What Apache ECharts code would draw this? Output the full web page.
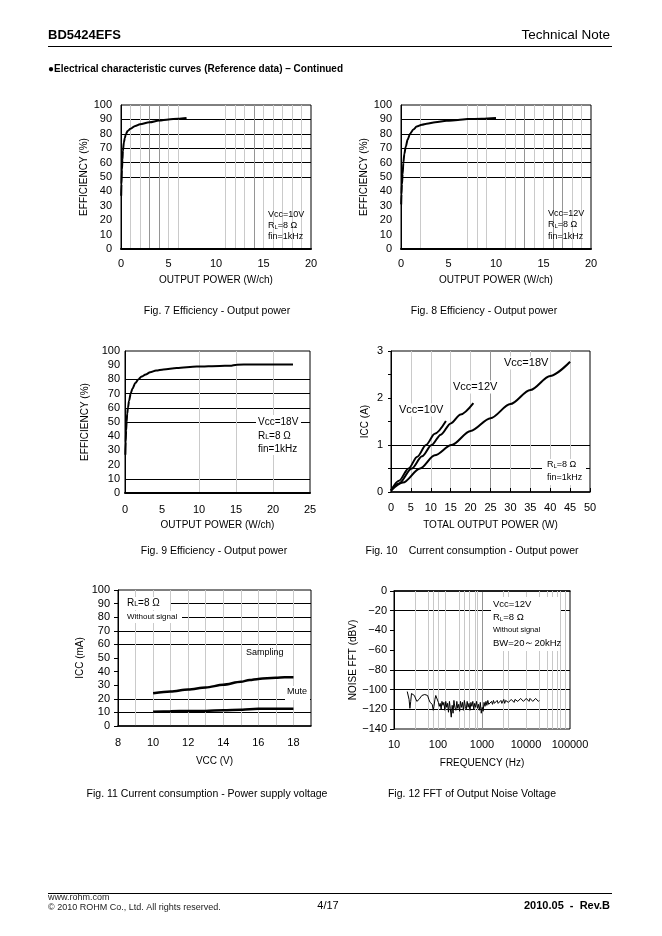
<!DOCTYPE html>
<html><head><meta charset="utf-8">
<script src="https://cdn.jsdelivr.net/npm/echarts@6/dist/echarts.min.js"></script>
<style>html,body{margin:0;padding:0;background:#fff}#c{width:662px;height:936px}</style>
</head><body><div id="c"></div>
<script>
const FONT = '"Liberation Sans", Arial, Helvetica, sans-serif';

// ---- Fig. 7 : Efficiency vs output power, Vcc=10V
const eff7Power = [0.02,0.05,0.1,0.15,0.2,0.3,0.4,0.5,0.7,1.0,1.5,2,3,4,5,6,6.9];
const eff7Value = [37,45,55,62,68,74,77,79.5,82,83.5,85.5,86.7,88,89.2,90,90.5,91];
// ---- Fig. 8 : Vcc=12V
const eff8Power = [0.02,0.05,0.1,0.17,0.25,0.35,0.5,0.7,0.95,1.3,1.65,2.2,2.7,3.6,4.8,6,7,8.5,10];
const eff8Value = [31,38,45,52,60,66,71,76,80,83,85,86.3,87,88,89,89.6,90.2,90.5,91];
// ---- Fig. 9 : Vcc=18V
const eff9Power = [0.05,0.1,0.15,0.22,0.3,0.4,0.55,0.77,1.0,1.4,1.8,2.25,2.8,3.4,4.2,5.2,7,9.7,12.8,14.2,15.1,17,20,22.7];
const eff9Value = [27,36,44,50,56,60,65,70,73.5,77.5,80,82,83.5,85,86.2,87,88,89,89.5,89.6,90.4,90.5,90.5,90.5];
// ---- Fig. 10 : ICC vs total output power
const icc10Power = [0,2,4.4,6.6,8.8,11,13.8];
const icc10Current = [0.03,0.24,0.5,0.75,1.0,1.24,1.51];
const icc12Power = [0,2,5.2,7.8,10.2,12.5,15,17.5,20.7];
const icc12Current = [0.03,0.18,0.5,0.76,1.0,1.22,1.46,1.65,1.89];
const icc18Power = [0,3,7.3,11,15.2,20,25,30,35,40,45];
const icc18Current = [0.03,0.2,0.5,0.78,1.0,1.3,1.57,1.87,2.17,2.47,2.77];
// ---- Fig. 11 : ICC vs VCC
const vccVolt = [10,11,12,13,14,15,15.5,16,16.5,17,17.5,18];
const samplingCurrent = [24,25.3,26.8,28.3,30.3,32.5,33.8,34.6,35.2,35.4,35.8,35.8];
const muteCurrent = [10.5,10.9,11,11.1,11.6,11.9,12.4,12.6,12.7,12.7,12.7,12.7];
// ---- Fig. 12 : noise FFT
const fftFreq = [20,21,22,23,24,25,27,29,31,33,35,37,40,43,46,50,54,58,62,66,70,74,78,81,85,89,93,97,
 102,107,112,118,123,130,136,143,150,158,165,173,182,190,200,210,220,230,242,255,268,280,295,310,325,342,360,378,397,
 417,438,460,483,508,533,560,588,618,650,682,716,752,790,830,872,916,962,1010,1060,1113,1170,1230,1290,1355,1423,1495,
 1570,1650,1733,1820,1911,2007,2108,2214,2325,2442,2565,2694,2830,2972,3121,3278,3443,3616,3797,3988,4188,4399,4620,
 4852,5096,5352,5621,5903,6200,6512,6839,7183,7544,7923,8321,8739,9179,9640,10125,10634,11168,11730,12320,12939,
 13589,14272,14990,15743,16535,17366,18239,19156,20000];
const fftLevel = [-102,-104,-110,-119,-112,-104,-103,-106,-108,-112,-113,-110,-108,-106,-104,-105,-107,-106,-110,-113,-112,-115,-121,-117,-110,-106,-104,-107,
 -113,-117,-114,-120,-112,-116,-113,-121,-112,-118,-114,-123,-112,-119,-128,-116,-124,-111,-118,-121,-112,-119,-115,-122,-112,-118,-113,-121,-111,
 -117,-120,-112,-118,-114,-121,-113,-117,-112,-120,-114,-118,-112,-119,-115,-121,-113,-124,-118,-122,-113,-117,-112,-116,-111,-115,-113,
 -117,-112,-115,-111,-114,-112,-116,-111,-114,-112,-115,-111,-114,-112,-110,-114,-111,-113,-110,-113,-111,-114,-110,
 -112,-110,-113,-110,-112,-109,-112,-110,-113,-109,-111,-109,-112,-110,-112,-109,-111,-110,-112,-109,-111,
 -110,-112,-110,-111,-109,-111,-110,-112,-111];
// minor frequency grid lines visible in the reference
const fftMinorFreqs = [30,60,80,150,300,400,500,700,800,3000,4000,20000,30000,40000,50000,60000,80000];

const pairs = (xs, ys) => xs.map((x, i) => [x, ys[i]]);

const K = '#000', N = 'rgba(0,0,0,0)', L = '#cacaca', D = '#959595';
const lab = (extra) => Object.assign({color:'#000', fontFamily:FONT, fontSize:11}, extra || {});
const nameStyle = {color:'#000', fontFamily:FONT, fontSize:10};

function axis(o) {
  return Object.assign({
    type:'value', nameLocation:'middle', nameTextStyle:nameStyle,
    axisTick:{show:false}
  }, o);
}

const grids = [
  {left:121, top:105, width:190, height:144},
  {left:401, top:105, width:190, height:144},
  {left:125, top:351, width:185, height:142},
  {left:391, top:351, width:199, height:141},
  {left:118, top:590, width:193, height:136},
  {left:394, top:591, width:176, height:138}
].map(g => Object.assign({show:true, borderColor:'#000', borderWidth:1, backgroundColor:'transparent'}, g));

const every5 = v => (v % 5 === 0 ? String(v) : '');

const xAxes = [
  axis({gridIndex:0, min:0, max:20, interval:1, name:'OUTPUT POWER (W/ch)', nameGap:26,
    axisLine:{lineStyle:{color:'#000', width:2}}, axisLabel:lab({formatter:every5, margin:9}),
    splitLine:{show:true, lineStyle:{width:1, color:[N,L,L,D,D,L,L,N,N,N,N,L,L,L,D,L,L,L,L,L,N]}}}),
  axis({gridIndex:1, min:0, max:20, interval:1, name:'OUTPUT POWER (W/ch)', nameGap:26,
    axisLine:{lineStyle:{color:'#000', width:2}}, axisLabel:lab({formatter:every5, margin:9}),
    splitLine:{show:true, lineStyle:{width:1, color:[N,N,L,N,N,N,N,L,L,L,N,L,L,D,L,L,D,D,L,L,N]}}}),
  axis({gridIndex:2, min:0, max:25, interval:5, name:'OUTPUT POWER (W/ch)', nameGap:27,
    axisLine:{lineStyle:{color:'#000', width:2}}, axisLabel:lab({margin:11}),
    splitLine:{show:true, lineStyle:{width:1, color:[N,N,L,L,L,N]}}}),
  axis({gridIndex:3, min:0, max:50, interval:5, name:'TOTAL OUTPUT POWER (W)', nameGap:28,
    axisLine:{lineStyle:{color:'#000', width:1.5}}, axisLabel:lab({margin:10}),
    axisTick:{show:true, inside:true, length:4, lineStyle:{color:'#000'}},
    splitLine:{show:true, lineStyle:{width:1, color:[N,L,L,L,L,D,L,L,L,L,N]}}}),
  axis({gridIndex:4, min:8, max:19, interval:1, name:'VCC (V)', nameGap:30,
    axisLine:{lineStyle:{color:'#000', width:1.5}}, axisLabel:lab({margin:11, formatter:v => (v % 2 === 0 ? String(v) : '')}),
    splitLine:{show:true, lineStyle:{width:1, color:[N,L,L,L,L,L,L,L,L,L,L,N]}}}),
  axis({gridIndex:5, type:'log', logBase:10, min:10, max:100000, name:'FREQUENCY (Hz)', nameGap:29,
    axisLine:{lineStyle:{color:'#000', width:1.5}}, axisLabel:lab({margin:10, formatter:v => String(v)}),
    splitLine:{show:true, lineStyle:{width:1, color:[N,L,D,L,N]}}})
];

const yAxes = [
  axis({gridIndex:0, min:0, max:100, interval:10, name:'EFFICIENCY (%)', nameGap:31,
    axisLine:{lineStyle:{color:'#000', width:1}}, axisLabel:lab({margin:9}),
    splitLine:{show:true, lineStyle:{width:1, color:[N,N,N,N,N,K,K,K,K,K,N]}}}),
  axis({gridIndex:1, min:0, max:100, interval:10, name:'EFFICIENCY (%)', nameGap:31,
    axisLine:{lineStyle:{color:'#000', width:1}}, axisLabel:lab({margin:9}),
    splitLine:{show:true, lineStyle:{width:1, color:[N,N,N,N,N,K,K,K,K,K,N]}}}),
  axis({gridIndex:2, min:0, max:100, interval:10, name:'EFFICIENCY (%)', nameGap:35,
    axisLine:{lineStyle:{color:'#000', width:1}}, axisLabel:lab({margin:5}),
    splitLine:{show:true, lineStyle:{width:1, color:[N,K,N,N,N,K,K,K,K,N,N]}}}),
  axis({gridIndex:3, min:0, max:3, interval:0.5, name:'ICC (A)', nameGap:21,
    axisLine:{lineStyle:{color:'#000', width:1}}, axisLabel:lab({margin:8, formatter:v => (Number.isInteger(v) ? String(v) : '')}),
    axisTick:{show:true, length:3, lineStyle:{color:'#000'}},
    splitLine:{show:true, lineStyle:{width:1, color:[N,K,K,N,N,N,N]}}}),
  axis({gridIndex:4, min:0, max:100, interval:10, name:'ICC (mA)', nameGap:33,
    axisLine:{lineStyle:{color:'#000', width:1}}, axisLabel:lab({margin:8}),
    axisTick:{show:true, length:4, lineStyle:{color:'#000'}},
    splitLine:{show:true, lineStyle:{width:1, color:[N,K,K,N,N,N,K,K,K,K,N]}}}),
  axis({gridIndex:5, min:-140, max:0, interval:20, name:'NOISE FFT (dBV)', nameGap:35,
    axisLine:{lineStyle:{color:'#000', width:1}}, axisLabel:lab({margin:7, formatter:v => String(v).replace('-', '\u2212')}),
    axisTick:{show:true, length:4, lineStyle:{color:'#000'}},
    splitLine:{show:true, lineStyle:{width:1, color:[N,K,K,K,N,N,K,N]}}})
];

const thick = (xi, data, w) => ({
  type:'line', xAxisIndex:xi, yAxisIndex:xi, data, showSymbol:false, symbol:'none',
  smooth:0.3, smoothMonotone:'x', z:3,
  lineStyle:{color:'#000', width:w || 2}
});

const series = [
  thick(0, pairs(eff7Power, eff7Value)),
  thick(1, pairs(eff8Power, eff8Value)),
  thick(2, pairs(eff9Power, eff9Value)),
  thick(3, pairs(icc10Power, icc10Current)),
  thick(3, pairs(icc12Power, icc12Current)),
  thick(3, pairs(icc18Power, icc18Current)),
  thick(4, pairs(vccVolt, samplingCurrent), 2.5),
  thick(4, pairs(vccVolt, muteCurrent), 2.5),
  {
    type:'line', xAxisIndex:5, yAxisIndex:5, data:pairs(fftFreq, fftLevel), showSymbol:false, symbol:'none', z:3,
    lineStyle:{color:'#000', width:1},
    markLine:{silent:true, symbol:'none', z:1, animation:false, label:{show:false},
      lineStyle:{color:'#c8c8c8', width:1, type:'solid'},
      emphasis:{disabled:true},
      data:fftMinorFreqs.map(f => ({xAxis:f}))}
  }
];

function T(x, y, text, size, extra) {
  return {type:'text', x, y, z:110, silent:true,
    style:Object.assign({text, fill:'#000', font:size + 'px ' + FONT, align:'left', verticalAlign:'middle'}, extra || {})};
}
function TB(x, y, text, size, extra) {
  return T(x, y, text, size, Object.assign({font:'bold ' + size + 'px ' + FONT}, extra || {}));
}
function RL(x, y, size) {
  return {type:'text', x, y, z:110, silent:true,
    style:{text:'{a|R}{b|L}{a|=8 Ω}', align:'left', verticalAlign:'middle',
      rich:{a:{fontSize:size, fontFamily:FONT, fill:'#000'}, b:{fontSize:Math.round(size*0.65), fontFamily:FONT, fill:'#000', verticalAlign:'bottom'}}}};
}
function W(x, y, w, h) {
  return {type:'rect', z:105, silent:true, shape:{x, y, width:w, height:h}, style:{fill:'#fff'}};
}
function HL(x1, x2, y, w) {
  return {type:'line', z:105, silent:true, shape:{x1, y1:y, x2, y2:y}, style:{stroke:'#000', lineWidth:w || 1}};
}

const graphic = [
  // header
  TB(48, 35, 'BD5424EFS', 13),
  T(610, 35, 'Technical Note', 13.5, {align:'right'}),
  HL(48, 612, 46.5, 1),
  TB(48, 69, '\u25CFElectrical characteristic curves (Reference data) \u2013 Continued', 10),
  // captions
  T(217, 311, 'Fig. 7 Efficiency - Output power', 10.5, {align:'center'}),
  T(484, 311, 'Fig. 8 Efficiency - Output power', 10.5, {align:'center'}),
  T(214, 551, 'Fig. 9 Efficiency - Output power', 10.5, {align:'center'}),
  T(472, 551, 'Fig. 10\u3000Current consumption - Output power', 10.5, {align:'center'}),
  T(207, 794, 'Fig. 11 Current consumption - Power supply voltage', 10.5, {align:'center'}),
  T(472, 794, 'Fig. 12 FFT of Output Noise Voltage', 10.5, {align:'center'}),
  // footer
  HL(48, 612, 893.5, 1),
  T(48, 898, 'www.rohm.com', 9, {fill:'#222'}),
  T(48, 908, '\u00A9 2010 ROHM Co., Ltd. All rights reserved.', 9, {fill:'#222'}),
  T(328, 906, '4/17', 11, {align:'center'}),
  TB(610, 906, '2010.05  -  Rev.B', 11, {align:'right'}),
  // Fig 7 annotations
  T(268, 215, 'Vcc=10V', 9),
  RL(268, 226, 9),
  T(268, 237, 'fin=1kHz', 9),
  // Fig 8 annotations
  T(548, 214, 'Vcc=12V', 9),
  RL(548, 225, 9),
  T(548, 237, 'fin=1kHz', 9),
  // Fig 9 annotations
  W(256, 415, 45, 40),
  T(258, 422, 'Vcc=18V', 10),
  RL(258, 436, 10),
  T(258, 449, 'fin=1kHz', 10),
  // Fig 10 annotations
  T(398, 410, 'Vcc=10V', 11, {backgroundColor:'#fff', padding:[1,1]}),
  T(452, 387, 'Vcc=12V', 11, {backgroundColor:'#fff', padding:[1,1]}),
  T(503, 363, 'Vcc=18V', 11, {backgroundColor:'#fff', padding:[1,1]}),
  W(542, 459, 44, 26),
  RL(547, 465, 9),
  T(547, 478, 'fin=1kHz', 9),
  // Fig 11 annotations
  W(119, 597, 51, 13),
  W(119, 611, 63, 12),
  RL(127, 603, 10),
  T(127, 617, 'Without signal', 8),
  T(246, 653, 'Sampling', 9),
  W(285, 686, 25, 14),
  T(287, 692, 'Mute', 9),
  // Fig 12 annotations
  W(491, 597, 69, 54),
  T(493, 604, 'Vcc=12V', 9.5),
  RL(493, 617, 9.5),
  T(493, 630, 'Without signal', 7.5),
  T(493, 643, 'BW=20\uFF5E20kHz', 9.5)
];

const chart = echarts.init(document.getElementById('c'), null, {renderer:'canvas'});
chart.setOption({
  animation:false,
  backgroundColor:'#fff',
  grid:grids,
  xAxis:xAxes,
  yAxis:yAxes,
  series,
  graphic
});
</script></body></html>
